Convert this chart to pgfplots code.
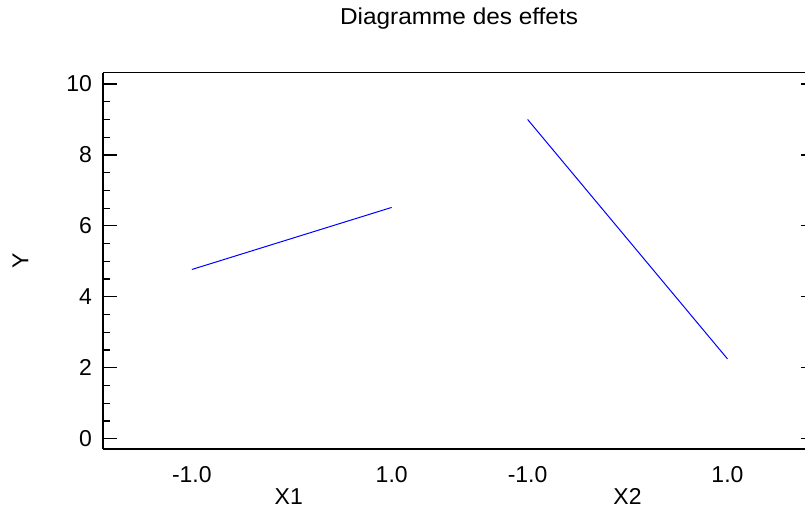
\documentclass[border=0pt]{standalone}
\usepackage{fontspec}
\setmainfont{Liberation Sans}
\usepackage{pgfplots}
\pgfplotsset{compat=1.18}
\newcommand{\lblfont}{\fontsize{23}{27}\selectfont}
\begin{document}
\begin{tikzpicture}
\path (-103pt,-60.7pt) rectangle (703pt,449.3pt);
\begin{axis}[
  at={(0,0)}, anchor=south west,
  scale only axis, width=703pt, height=376.6pt,
  xmin=-0.89, xmax=6.14, ymin=-0.29, ymax=10.32,
  clip=false,
  axis x line*=box, axis y line*=left,
  axis line style={line width=1.2pt, black, -},
  xtick={0,2,3.36,5.36}, xticklabels={-1.0,1.0,-1.0,1.0},
  xtick style={draw=none},
  ytick={0,2,4,6,8,10}, minor y tick num=3,
  ytick style={line width=1.2pt, black},
  minor y tick style={line width=1.2pt, black},
  major tick length=14pt, minor tick length=7pt,
  tick align=inside,
  /pgf/number format/assume math mode=true,
  tick label style={font=\lblfont},
  xticklabel style={inner sep=0pt, anchor=north, yshift=-17pt},
  yticklabel style={inner sep=0pt, anchor=east, xshift=-10.7pt},
  ylabel={Y},
  ylabel style={at={(axis description cs:-0.1174,0.5)}, anchor=center, inner sep=0pt, font=\lblfont},
  title={\scalebox{1.06}[1]{Diagramme des effets}},
  title style={at={(axis description cs:0.507,1)}, anchor=base, inner sep=0pt, yshift=42pt, font=\lblfont},
]
\addplot[blue, line width=1pt] coordinates {(0,4.77) (2,6.52)};
\addplot[blue, line width=1pt] coordinates {(3.36,9.0) (5.36,2.25)};
\foreach \yy in {0,2,4,6,8,10} {
  \edef\temp{\noexpand\draw[line width=1.2pt, black] (axis cs:6.10,\yy) -- (axis cs:6.14,\yy);}
  \temp
}
\node[font=\lblfont, inner sep=0pt, anchor=center] at (axis cs:0.97,-1.634) {X1};
\node[font=\lblfont, inner sep=0pt, anchor=center] at (axis cs:4.36,-1.634) {X2};
\end{axis}
\end{tikzpicture}
\end{document}
